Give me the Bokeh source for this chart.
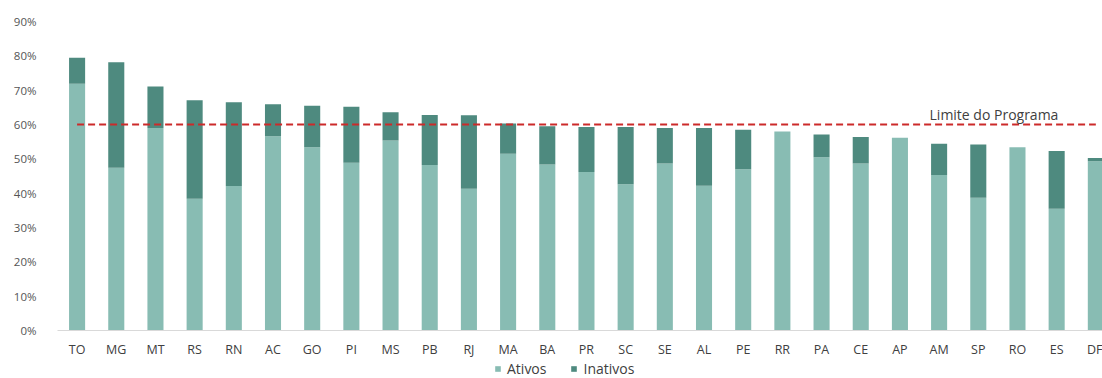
from bokeh.plotting import figure
from bokeh.layouts import column
from bokeh.models import (ColumnDataSource, Range1d, NumeralTickFormatter,
                          FixedTicker, Legend, LegendItem, Label)
from bokeh.embed import file_html
from bokeh.resources import INLINE

# Unidades da federação, ordenadas pelo total
estados = ["TO", "MG", "MT", "RS", "RN", "AC", "GO", "PI", "MS", "PB", "RJ", "MA", "BA",
           "PR", "SC", "SE", "AL", "PE", "RR", "PA", "CE", "AP", "AM", "SP", "RO", "ES", "DF"]
# Participação (%) de servidores ativos
ativos = [71.9, 47.4, 59.0, 38.4, 42.1, 56.6, 53.4, 48.9, 55.4, 48.2, 41.3, 51.5, 48.4,
          46.2, 42.6, 48.7, 42.2, 47.0, 58.0, 50.5, 48.7, 56.2, 45.3, 38.7, 53.4, 35.5, 49.3]
# Participação total (ativos + inativos)
total = [79.5, 78.2, 71.1, 67.1, 66.5, 65.9, 65.5, 65.2, 63.6, 62.8, 62.7, 60.3, 59.5,
         59.3, 59.3, 59.0, 59.0, 58.5, 58.0, 57.1, 56.4, 56.2, 54.4, 54.2, 53.4, 52.3, 50.3]
limite = 60.0
y_ticks = [0, 10, 20, 30, 40, 50, 60, 70, 80, 90]
series = ["Ativos", "Inativos"]

COR_ATIVOS = "#88bcb3"
COR_INATIVOS = "#4e8a7f"
FONT = "Open Sans"

x = list(range(len(estados)))
src = ColumnDataSource(dict(
    x=x,
    ativos=[a / 100 for a in ativos],
    total=[t / 100 for t in total],
))

p = figure(width=1102, height=360, output_backend="svg", toolbar_location=None,
           x_range=Range1d(-0.5, 26.17), y_range=Range1d(0, 0.95),
           min_border_left=57, min_border_right=0, min_border_top=4, min_border_bottom=30)
p.outline_line_color = None
p.background_fill_color = "white"
p.border_fill_color = "white"
p.grid.visible = False

p.vbar(x="x", top="ativos", bottom=0, width=0.41, source=src,
       fill_color=COR_ATIVOS, line_color=None)
p.vbar(x="x", top="total", bottom="ativos", width=0.41, source=src,
       fill_color=COR_INATIVOS, line_color=None)

# Linha do limite do programa
p.segment(x0=[0], x1=[len(estados) - 1], y0=[limite / 100], y1=[limite / 100],
          line_color="#cc2a2a", line_width=2, line_dash="7 4")
p.add_layout(Label(x=23.4, y=limite / 100, text="Limite do Programa", y_offset=1,
                   text_font=FONT, text_font_size="14px", text_color="#404040",
                   text_baseline="bottom", text_align="center"))

# Eixo Y
p.yaxis.ticker = FixedTicker(ticks=[t / 100 for t in y_ticks])
p.yaxis.formatter = NumeralTickFormatter(format="0%")
p.yaxis.axis_line_color = None
p.yaxis.major_tick_line_color = None
p.yaxis.minor_tick_line_color = None
p.yaxis.major_label_standoff = 15
p.yaxis.major_label_text_font = FONT
p.yaxis.major_label_text_font_size = "11.5px"
p.yaxis.major_label_text_color = "#555555"

# Eixo X
p.xaxis.ticker = FixedTicker(ticks=x)
p.xaxis.major_label_overrides = {i: e for i, e in enumerate(estados)}
p.xaxis.axis_line_color = "#d9d9d9"
p.xaxis.major_tick_line_color = None
p.xaxis.minor_tick_line_color = None
p.xaxis.major_label_standoff = 4
p.xaxis.major_label_text_font = FONT
p.xaxis.major_label_text_font_size = "12.5px"
p.xaxis.major_label_text_color = "#404040"

# Faixa da legenda, abaixo do gráfico (quadro alinhado ao do gráfico)
leg = figure(width=1102, height=18, output_backend="svg", toolbar_location=None,
             x_range=Range1d(0, 1), y_range=Range1d(0, 1),
             x_axis_location=None, y_axis_location=None,
             min_border=0)
leg.outline_line_color = None
leg.background_fill_color = "white"
leg.border_fill_color = "white"
leg.grid.visible = False
# Renderizadores de altura zero: servem apenas de amostra para a legenda
r_at = leg.vbar(x=[0.5], top=[0], bottom=[0], width=0.01,
                fill_color=COR_ATIVOS, line_color=None)
r_in = leg.vbar(x=[0.5], top=[0], bottom=[0], width=0.01,
                fill_color=COR_INATIVOS, line_color=None)
legend = Legend(items=[LegendItem(label=series[0], renderers=[r_at]),
                       LegendItem(label=series[1], renderers=[r_in])],
                orientation="horizontal", location=(437, 0),
                border_line_color=None, background_fill_alpha=0,
                glyph_width=7, glyph_height=7, label_standoff=6, spacing=24,
                label_height=14,
                label_text_font=FONT, label_text_font_size="14px",
                label_text_color="#404040", padding=0, margin=0)
leg.add_layout(legend, "center")

layout = column(p, leg, spacing=0)
open("out.html", "w").write(file_html(layout, INLINE))
